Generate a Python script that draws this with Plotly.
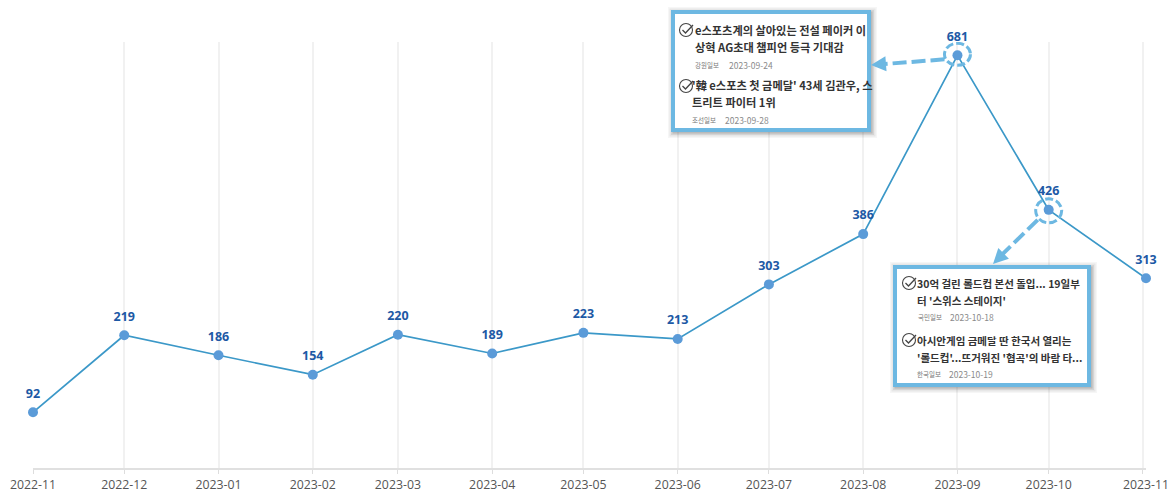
import plotly.graph_objects as go

months = ["2022-11-01","2022-12-01","2023-01-01","2023-02-01","2023-03-01","2023-04-01","2023-05-01",
          "2023-06-01","2023-07-01","2023-08-01","2023-09-01","2023-10-01","2023-11-02"]
grid_dates = ["2022-11-01","2022-12-01","2023-01-01","2023-02-01","2023-03-01","2023-04-01","2023-05-01",
              "2023-06-01","2023-07-01","2023-08-01","2023-09-01","2023-10-01","2023-11-01"]
counts = [92,219,186,154,220,189,223,213,303,386,681,426,313]
tick_labels = ["2022-11","2022-12","2023-01","2023-02","2023-03","2023-04","2023-05",
               "2023-06","2023-07","2023-08","2023-09","2023-10","2023-11"]

box_a_lines = [
    ("e스포츠계의 살아있는 전설 페이커 이", 30, 693, "h"),
    ("상혁 AG초대 챔피언 등극 기대감", 47, 693, "h"),
    ("강원일보", 65, 693, "s"), ("2023-09-24", 65, 727, "d"),
    ("'韓 e스포츠 첫 금메달' 43세 김관우, 스", 85, 690, "h"),
    ("트리트 파이터 1위", 102, 690, "h"),
    ("조선일보", 120, 690, "s"), ("2023-09-28", 120, 723, "d"),
]
box_b_lines = [
    ("30억 걸린 롤드컵 본선 돌입... 19일부", 283, 915, "h2"),
    ("터 '스위스 스테이지'", 300, 915, "h2"),
    ("국민일보", 317, 916, "s"), ("2023-10-18", 317, 948, "d"),
    ("아시안게임 금메달 딴 한국서 열리는", 340, 915, "h2"),
    ("'롤드컵'...뜨거워진 '협곡'의 바람 타...", 357, 915, "h2"),
    ("한국일보", 374, 915, "s"), ("2023-10-19", 374, 947, "d"),
]
check_icons = [(686, 30), (686, 86), (909, 283), (909, 340)]

W, H = 1174, 496
L, R, T, B = 33, 28, 42, 28
def px(x): return (x - L) / (W - L - R)
def py(y): return (H - B - y) / (H - T - B)

KR = "Noto Sans CJK KR"
BLUE = "#6db8e2"
shapes, annos = [], []

def rect(x0, y0, x1, y1, **kw):
    shapes.append(dict(type="rect", xref="paper", yref="paper", x0=px(x0), x1=px(x1),
                       y0=py(y0), y1=py(y1), layer="above", **kw))

def box(x0, y0, x1, y1):
    for g, op in ((6, .05), (4.5, .08), (3, .12), (1.5, .18)):
        rect(x0 + 3 - g, y0 + 3 - g, x1 + g, y1 + g,
             fillcolor=f"rgba(70,70,70,{op})", line=dict(width=0))
    rect(x0 + 2, y0 + 2, x1 - 2, y1 - 2, fillcolor="white", line=dict(color=BLUE, width=4))

box(671, 10, 871, 132)
box(893, 265, 1091, 387)

for lines in (box_a_lines, box_b_lines):
    for text, y, x, kind in lines:
        style = {"h": dict(size=11.2, color="#333333", weight=700),
                 "h2": dict(size=10.5, color="#333333", weight=700),
                 "s": dict(size=6.5, color="#777777"),
                 "d": dict(size=8.5, color="#8a8a8a")}[kind]
        annos.append(dict(text=text, xref="paper", yref="paper", x=px(x), y=py(y),
                          xanchor="left", yanchor="middle", showarrow=False,
                          font=dict(family=KR, **style)))

for cx, cy in check_icons:
    shapes.append(dict(type="circle", xref="paper", yref="paper", x0=px(cx-6.5), x1=px(cx+6.5),
                       y0=py(cy+6.5), y1=py(cy-6.5), line=dict(color="#444444", width=1.1), layer="above"))
    shapes.append(dict(type="path", xref="paper", yref="paper", layer="above",
                       path=f"M {px(cx-3.5)} {py(cy)} L {px(cx-0.5)} {py(cy+3)} L {px(cx+7)} {py(cy-5)}",
                       line=dict(color="#444444", width=1.3)))

# dashed rings and leader lines, anchored on their data points
leaders = {10: ((-13, -4), (-77, -9), 13, 11, 1), 11: ((-11, -10), (-50, -48), 13, 12, -1)}
for i, (start, end, rx, ry, cy) in leaders.items():
    shapes.append(dict(type="circle", xref="x", yref="y", xsizemode="pixel", ysizemode="pixel",
                       xanchor=months[i], yanchor=counts[i], x0=-rx, x1=rx, y0=cy-ry, y1=cy+ry,
                       line=dict(color=BLUE, width=3, dash="8px,3px"), layer="above"))
    shapes.append(dict(type="line", xref="x", yref="y", xsizemode="pixel", ysizemode="pixel",
                       xanchor=months[i], yanchor=counts[i], x0=start[0], y0=start[1], x1=end[0], y1=end[1],
                       line=dict(color=BLUE, width=4, dash="14px,5px"), layer="above"))
annos.append(dict(x=px(871), y=py(65), xref="paper", yref="paper", ax=13, ay=-1,
                  text="", showarrow=True, arrowhead=2, arrowsize=1, arrowwidth=3, arrowcolor=BLUE))
annos.append(dict(x=px(993), y=py(264), xref="paper", yref="paper", ax=11, ay=-11,
                  text="", showarrow=True, arrowhead=2, arrowsize=1, arrowwidth=3, arrowcolor=BLUE))

fig = go.Figure()
fig.add_trace(go.Scatter(
    x=months, y=counts, mode="lines+markers", cliponaxis=False,
    line=dict(color="#3b98c8", width=1.7),
    marker=dict(color="#5b9bd8", size=10), hoverinfo="skip",
))
fig.add_trace(go.Scatter(
    x=months, y=counts, mode="markers+text", text=[str(c) for c in counts],
    textposition="top center", cliponaxis=False,
    textfont=dict(family="Open Sans", size=12.5, color="#1d59a5", weight=700),
    marker=dict(color="rgba(0,0,0,0)", size=17), hoverinfo="skip",
))
fig.update_layout(
    width=W, height=H, margin=dict(l=L, r=R, t=T, b=B, autoexpand=False), showlegend=False,
    paper_bgcolor="white", plot_bgcolor="white", shapes=shapes, annotations=annos,
    xaxis=dict(type="date", tickmode="array", tickvals=months, ticktext=tick_labels, automargin=False,
               range=[months[0], months[-1]], showgrid=False, ticklabelstandoff=4,
               showline=True, linecolor="#e0e0e0", linewidth=2, ticks="",
               minor=dict(tickmode="array", tickvals=grid_dates, showgrid=True, gridcolor="#f1f1f1",
                          gridwidth=2, ticks="outside", ticklen=4, tickcolor="#dddddd", tickwidth=1),
               tickfont=dict(family="Open Sans", size=12.3, color="#555555"), zeroline=False),
    yaxis=dict(range=[0, 703], visible=False, showgrid=False, zeroline=False, automargin=False),
)
fig.write_html("out.html", config=dict(displayModeBar=False),
               post_script="document.body.style.margin='0';")
